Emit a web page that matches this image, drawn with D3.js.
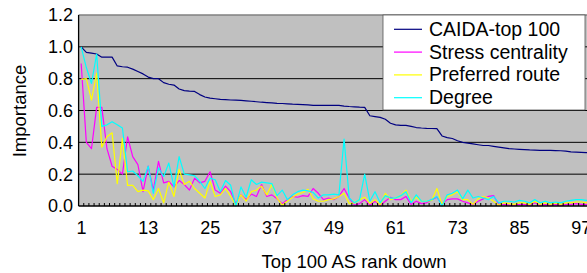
<!DOCTYPE html>
<html>
<head>
<meta charset="utf-8">
<script src="https://cdnjs.cloudflare.com/ajax/libs/d3/7.8.5/d3.min.js"></script>
<style>
body { margin:0; background:#fff; }
</style>
</head>
<body>
<script>
var w = 587;
var h = 273;

var ranks = d3.range(1, 101);
var xLabels = [1, 13, 25, 37, 49, 61, 73, 85, 97];
var yTicks = [0, 0.2, 0.4, 0.6, 0.8, 1.0, 1.2];
var seriesNames = ["CAIDA-top 100", "Stress centrality", "Preferred route", "Degree"];
var seriesColors = ["#000080", "#ff00ff", "#ffff00", "#00ffff"];

var caida = [1.0,0.965,0.96,0.955,0.935,0.935,0.935,0.88,0.875,0.872,
  0.86,0.845,0.83,0.81,0.8,0.8,0.775,0.765,0.76,0.735,
  0.725,0.722,0.72,0.7,0.685,0.678,0.674,0.67,0.668,0.666,
  0.665,0.663,0.661,0.658,0.655,0.652,0.65,0.648,0.645,0.644,
  0.642,0.64,0.639,0.637,0.635,0.632,0.632,0.632,0.632,0.632,
  0.632,0.628,0.625,0.623,0.621,0.62,0.567,0.562,0.557,0.545,
  0.52,0.51,0.507,0.506,0.5,0.493,0.49,0.488,0.487,0.486,
  0.44,0.43,0.424,0.41,0.4,0.395,0.39,0.385,0.38,0.38,
  0.375,0.37,0.365,0.36,0.358,0.356,0.354,0.352,0.351,0.35,
  0.35,0.349,0.348,0.347,0.345,0.34,0.339,0.337,0.335,0.333];

var stress = [0.895,0.4,0.36,0.62,0.62,0.36,0.25,0.23,0.2,0.435,
  0.31,0.26,0.09,0.25,0.1,0.28,0.145,0.155,0.12,0.16,
  0.135,0.1,0.175,0.145,0.155,0.215,0.1,0.08,0.125,0.09,
  0.015,0.07,0.04,0.075,0.06,0.135,0.06,0.07,0.045,0.015,
  0.04,0.06,0.055,0.065,0.06,0.11,0.08,0.04,0.05,0.04,
  0.06,0.11,0.05,0.005,0.015,0.04,0.005,0.03,0.005,0.03,
  0.055,0.04,0.04,0.06,0.01,0.03,0.015,0.02,0.04,0.055,
  0.01,0.04,0.045,0.045,0.03,0.02,0.01,0.03,0.045,0.06,
  0.065,0.01,0.01,0.005,0.005,0.01,0.01,0.005,0.02,0.005,
  0.01,0.005,0.01,0.005,0.01,0.01,0.015,0.01,0.01,0.015];

var preferred = [0.795,0.8,0.665,0.835,0.37,0.435,0.46,0.14,0.425,0.13,
  0.13,0.09,0.1,0.095,0.04,0.11,0.02,0.15,0.06,0.23,
  0.135,0.155,0.11,0.08,0.05,0.155,0.06,0.07,0.11,0.06,
  0.005,0.07,0.03,0.09,0.1,0.125,0.07,0.135,0.05,0.005,
  0.03,0.055,0.075,0.085,0.105,0.045,0.03,0.03,0.04,0.045,
  0.06,0.08,0.015,0.02,0.04,0.055,0.015,0.04,0.005,0.08,
  0.04,0.05,0.065,0.1,0.03,0.055,0.03,0.03,0.035,0.11,
  0.01,0.06,0.07,0.09,0.04,0.04,0.01,0.045,0.06,0.05,
  0.03,0.005,0.02,0.015,0.01,0.02,0.02,0.01,0.03,0.01,
  0.02,0.01,0.02,0.01,0.02,0.02,0.025,0.025,0.02,0.03];

var degree = [1.0,0.87,0.77,0.955,0.5,0.51,0.53,0.51,0.49,0.215,
  0.22,0.19,0.155,0.25,0.08,0.24,0.185,0.27,0.12,0.31,
  0.2,0.195,0.19,0.155,0.11,0.175,0.165,0.09,0.16,0.13,
  0.0,0.12,0.055,0.165,0.135,0.15,0.145,0.14,0.065,0.1,
  0.04,0.07,0.09,0.1,0.095,0.085,0.05,0.07,0.07,0.075,
  0.07,0.42,0.05,0.02,0.04,0.2,0.03,0.09,0.02,0.065,
  0.05,0.05,0.065,0.09,0.02,0.07,0.03,0.03,0.04,0.06,
  0.0,0.07,0.08,0.1,0.045,0.1,0.05,0.06,0.05,0.04,
  0.06,0.02,0.03,0.03,0.025,0.035,0.03,0.02,0.04,0.02,
  0.03,0.02,0.025,0.02,0.03,0.035,0.04,0.04,0.035,0.04];

var allSeries = [caida, stress, preferred, degree];

var plotLeft = 78.6, plotTop = 15, plotBottom = 206;
var band = 5.155;

var xScale = d3.scaleBand()
  .domain(ranks)
  .range([plotLeft, plotLeft + band * ranks.length])
  .paddingInner(0);

var yScale = d3.scaleLinear()
  .domain([0, 1.2])
  .range([plotBottom, plotTop]);

var svg = d3.select("body")
  .append("svg")
  .attr("width", w)
  .attr("height", h)
  .attr("font-family", "'Liberation Sans', Arial, sans-serif")
  .attr("font-size", 18);

// plot area
svg.append("rect")
  .attr("x", plotLeft)
  .attr("y", plotTop)
  .attr("width", xScale.range()[1] - plotLeft)
  .attr("height", plotBottom - plotTop)
  .attr("fill", "#c0c0c0");

// gridlines
svg.selectAll(".grid")
  .data(yTicks.filter(function(d){ return d > 0 && d < 1.2; }))
  .enter()
  .append("line")
  .attr("x1", plotLeft)
  .attr("x2", w)
  .attr("y1", function(d){ return yScale(d); })
  .attr("y2", function(d){ return yScale(d); })
  .attr("stroke", "#000")
  .attr("stroke-width", 1);

// top border
svg.append("line")
  .attr("x1", plotLeft).attr("x2", w)
  .attr("y1", plotTop).attr("y2", plotTop)
  .attr("stroke", "#808080")
  .attr("stroke-width", 1.5);

// series
var line = d3.line()
  .x(function(d, i){ return xScale(ranks[i]) + xScale.bandwidth() / 2; })
  .y(function(d){ return yScale(d); });

svg.selectAll(".series")
  .data(allSeries)
  .enter()
  .append("path")
  .attr("d", line)
  .attr("fill", "none")
  .attr("stroke", function(d, i){ return seriesColors[i]; })
  .attr("stroke-width", 1.2)
  .attr("stroke-linejoin", "round");

// axes
svg.append("line")
  .attr("x1", plotLeft).attr("x2", plotLeft)
  .attr("y1", plotTop).attr("y2", plotBottom)
  .attr("stroke", "#000").attr("stroke-width", 1.3);

svg.append("line")
  .attr("x1", plotLeft).attr("x2", w)
  .attr("y1", plotBottom).attr("y2", plotBottom)
  .attr("stroke", "#000").attr("stroke-width", 1.3);

svg.selectAll(".xtick")
  .data(ranks.slice(1))
  .enter()
  .append("line")
  .attr("x1", function(d){ return xScale(d); })
  .attr("x2", function(d){ return xScale(d); })
  .attr("y1", plotBottom - 3)
  .attr("y2", plotBottom)
  .attr("stroke", "#000")
  .attr("stroke-width", 1);

svg.selectAll(".ylabel")
  .data(yTicks)
  .enter()
  .append("text")
  .attr("x", 73)
  .attr("y", function(d){ return yScale(d); })
  .attr("dy", "0.36em")
  .attr("text-anchor", "end")
  .text(function(d){ return d.toFixed(1); });

svg.selectAll(".xlabel")
  .data(xLabels)
  .enter()
  .append("text")
  .attr("x", function(d){ return xScale(d) + xScale.bandwidth() / 2 - 4.7; })
  .attr("y", 234)
  .attr("text-anchor", "start")
  .text(function(d){ return d; });

svg.append("text")
  .attr("x", 354)
  .attr("y", 268)
  .attr("text-anchor", "middle")
  .attr("font-size", 18.5)
  .text("Top 100 AS rank down");

svg.append("text")
  .attr("transform", "translate(26,111) rotate(-90)")
  .attr("text-anchor", "middle")
  .attr("font-size", 18.5)
  .text("Importance");

// legend
var legend = svg.append("g");

legend.append("rect")
  .attr("x", 383)
  .attr("y", plotTop)
  .attr("width", 202)
  .attr("height", 95)
  .attr("fill", "#fff")
  .attr("stroke", "#555")
  .attr("stroke-width", 0.8);

var rows = legend.selectAll(".row")
  .data(seriesNames)
  .enter()
  .append("g")
  .attr("transform", function(d, i){ return "translate(0," + (29.3 + i * 22.8) + ")"; });

rows.append("line")
  .attr("x1", 394).attr("x2", 422)
  .attr("y1", 0).attr("y2", 0)
  .attr("stroke", function(d, i){ return seriesColors[i]; })
  .attr("stroke-width", 1.2);

rows.append("text")
  .attr("x", 429)
  .attr("y", 6.5)
  .attr("font-size", 19.5)
  .text(function(d){ return d; });
</script>
</body>
</html>
